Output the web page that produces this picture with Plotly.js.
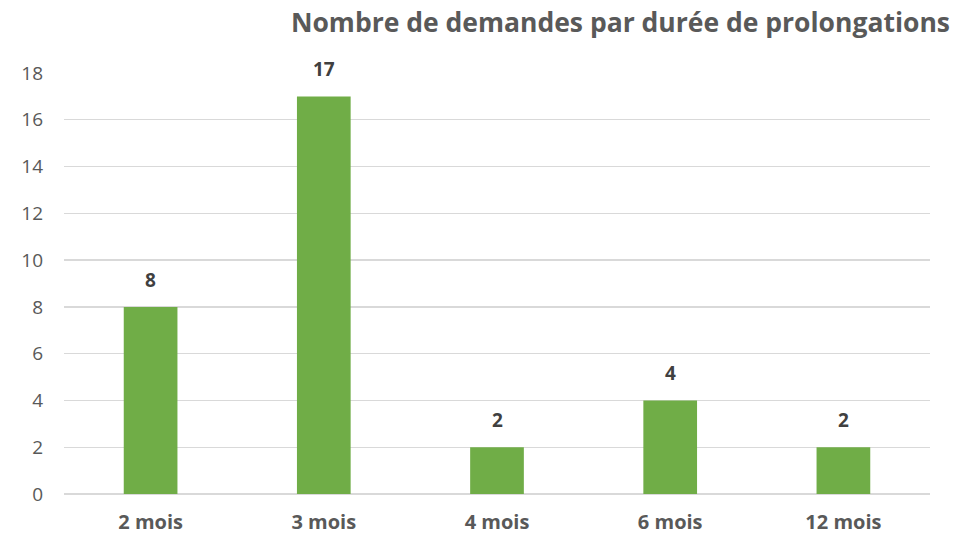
<!DOCTYPE html>
<html>
<head>
<meta charset="utf-8">
<script src="https://cdn.plot.ly/plotly-3.0.1.min.js"></script>
<style>html,body{margin:0;padding:0;background:#fff;}#chart{width:965px;height:536px;}</style>
</head>
<body>
<div id="chart"></div>
<script>
const categories = ["2 mois", "3 mois", "4 mois", "6 mois", "12 mois"];
const values = [8, 17, 2, 4, 2];
const yTicks = [0, 2, 4, 6, 8, 10, 12, 14, 16, 18];
const chartTitle = "Nombre de demandes par durée de prolongations";

const FONT = "'Open Sans', Lato, sans-serif";

const annotations = categories.map((c, i) => ({
  x: c, y: values[i], xref: 'x', yref: 'y',
  text: '<b>' + values[i] + '</b>',
  showarrow: false, yanchor: 'bottom', yshift: 12,
  font: {family: FONT, size: 19, color: '#404040'}
}));

const trace = {
  type: 'bar',
  x: categories,
  y: values,
  marker: {color: '#70AD47'},
  hoverinfo: 'none'
};

const layout = {
  width: 965, height: 536,
  margin: {l: 64, r: 35, t: 73, b: 42},
  paper_bgcolor: '#ffffff', plot_bgcolor: '#ffffff',
  bargap: 0.69,
  showlegend: false,
  title: {
    text: '<b>' + chartTitle + '</b>',
    xref: 'container', yref: 'container',
    x: 950/965, xanchor: 'right',
    y: 1 - 23/536, yanchor: 'middle',
    font: {family: FONT, size: 26.5, color: '#595959'}
  },
  xaxis: {
    type: 'category',
    tickvals: categories,
    ticktext: categories.map(c => '<b>' + c + '</b>'),
    ticks: '', showgrid: false, showline: false, zeroline: false,
    ticklabelstandoff: 14,
    tickfont: {family: FONT, size: 20, color: '#595959'}
  },
  yaxis: {
    range: [0, 18],
    tickvals: yTicks,
    ticks: '',
    showgrid: true, gridcolor: '#d9d9d9', gridwidth: 1.3,
    zeroline: true, zerolinecolor: '#d9d9d9', zerolinewidth: 1.3,
    showline: false,
    ticklabelstandoff: 20,
    tickfont: {family: FONT, size: 19, color: '#595959'}
  },
  annotations: annotations
};

Plotly.newPlot('chart', [trace], layout, {displayModeBar: false, staticPlot: true});
</script>
</body>
</html>
